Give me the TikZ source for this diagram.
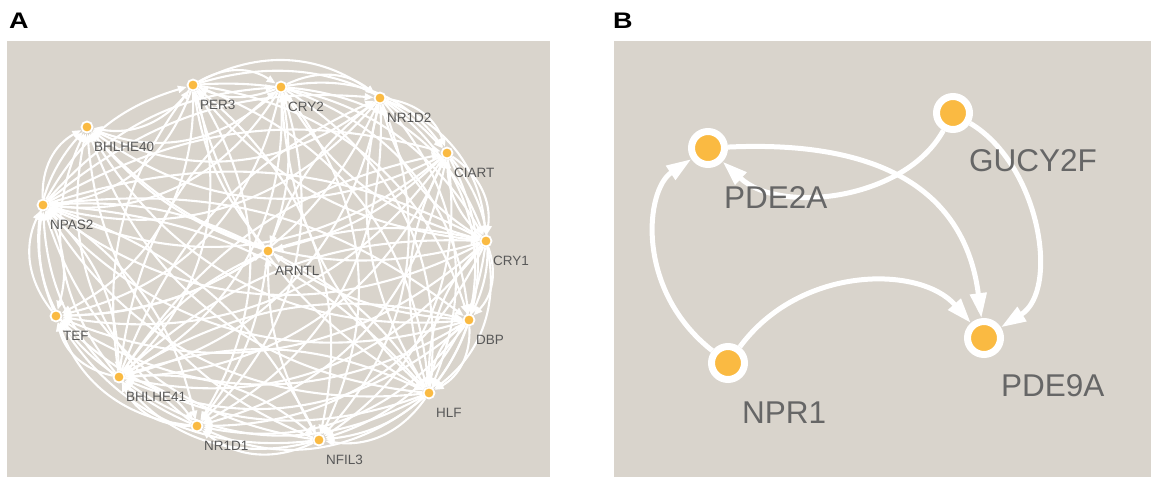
\documentclass[tikz,border=0pt]{standalone}
\usepackage{fontspec}
\usepackage{graphicx}
\setmainfont{Liberation Sans}
\usetikzlibrary{arrows.meta,calc}
\definecolor{panelgray}{RGB}{217,212,204}
\definecolor{dotorange}{RGB}{250,186,66}
\definecolor{labgray}{RGB}{88,88,88}
\definecolor{labgrayB}{RGB}{102,102,102}
\pgfdeclarelayer{back}
\pgfdeclarelayer{edges}
\pgfsetlayers{back,edges,main}

\begin{document}
\begin{tikzpicture}[x=1pt,y=-1pt,
  panelbg/.style={fill=panelgray,draw=none},
  tag/.style={anchor=west,inner sep=0pt,font=\fontsize{22.5}{26}\selectfont\bfseries},
  dotA/.style={circle,inner sep=0pt,minimum size=11pt,fill=dotorange,draw=white,line width=1.8pt},
  dotB/.style={circle,inner sep=0pt,minimum size=33pt,fill=dotorange,draw=white,line width=7pt},
  lblA/.style={anchor=west,inner sep=0pt,text=labgray,font=\fontsize{13.5}{16}\selectfont},
  lblB/.style={anchor=west,inner sep=0pt,text=labgrayB,font=\fontsize{31.5}{36}\selectfont},
  edgeA/.style={draw=white,line width=2.1pt,-{Triangle[length=9pt,width=7pt]}},
  edgeB/.style={draw=white,line width=5pt,-{Triangle[length=25pt,width=16pt]}}
]
\useasboundingbox (0,0) rectangle (1151,477);

% panel backgrounds
\begin{pgfonlayer}{back}
  \fill[panelbg] (7,41) rectangle (550,477);
  \fill[panelbg] (614,41) rectangle (1151,477);
\end{pgfonlayer}

\node[tag] (tagA) at (9,20.5) {\scalebox{1.2}[1]{A}};
\node[tag] (tagB) at (613,20.5) {\scalebox{1.2}[1]{B}};

% ---------- panel A: gene network ----------
\foreach \n/\px/\py/\name in {
  1/193/85/PER3, 2/281/87/CRY2, 3/380/98/NR1D2, 4/447/153/CIART,
  5/486/241/CRY1, 6/469/320/DBP, 7/429/393/HLF, 8/319/440/NFIL3,
  9/197/426/NR1D1, 10/119/377/BHLHE41, 11/56/316/TEF, 12/43/205/NPAS2,
  13/87/127/BHLHE40, 14/268/251/ARNTL}{
  \node[dotA] (a\n) at (\px,\py) {};
  \node[lblA] (la\n) at ([shift={(7,20)}]a\n.center) {\name};
}

\begin{pgfonlayer}{edges}
  % ring genes: one edge per pair, plus a return edge for part of them
  \foreach \i in {1,...,12}{
    \pgfmathtruncatemacro\jstart{\i+1}
    \foreach \j in {\jstart,...,13}{
      \draw[edgeA] (a\i) to[bend left=32] (a\j);
      \pgfmathtruncatemacro\rev{mod(\i*5+\j*3,5)}
      \ifnum\rev<2
        \draw[edgeA] (a\j) to[bend left=22] (a\i);
      \fi
    }
  }
  % hub gene in the middle
  \foreach \k in {1,...,13}{
    \ifodd\k
      \draw[edgeA] (a14) to[bend left=15] (a\k);
    \else
      \draw[edgeA] (a\k) to[bend left=15] (a14);
    \fi
  }
\end{pgfonlayer}

% ---------- panel B ----------
\node[dotB] (pde2a) at (708,148) {};
\node[dotB] (gucy) at (953,113) {};
\node[dotB] (npr1) at (728,363) {};
\node[dotB] (pde9a) at (984,338) {};

\node[lblB] (lpde2a) at ([shift={(16,49)}]pde2a.center) {PDE2A};
\node[lblB] (lgucy) at ([shift={(16,48)}]gucy.center) {GUCY2F};
\node[lblB] (lnpr1) at ([shift={(14,50)}]npr1.center) {NPR1};
\node[lblB] (lpde9a) at ([shift={(17,48)}]pde9a.center) {PDE9A};

\begin{pgfonlayer}{edges}
  \draw[edgeB] (npr1) .. controls (635,290) and (645,190) .. (pde2a);
  \draw[edgeB] (npr1) .. controls (800,265) and (920,265) .. (pde9a);
  \draw[edgeB] (gucy) .. controls (1040,165) and (1060,290) .. (pde9a);
  \draw[edgeB] (pde2a) .. controls (880,140) and (965,190) .. (pde9a);
  \draw[edgeB] (gucy) .. controls (905,200) and (780,215) .. (pde2a);
\end{pgfonlayer}
\end{tikzpicture}
\end{document}
